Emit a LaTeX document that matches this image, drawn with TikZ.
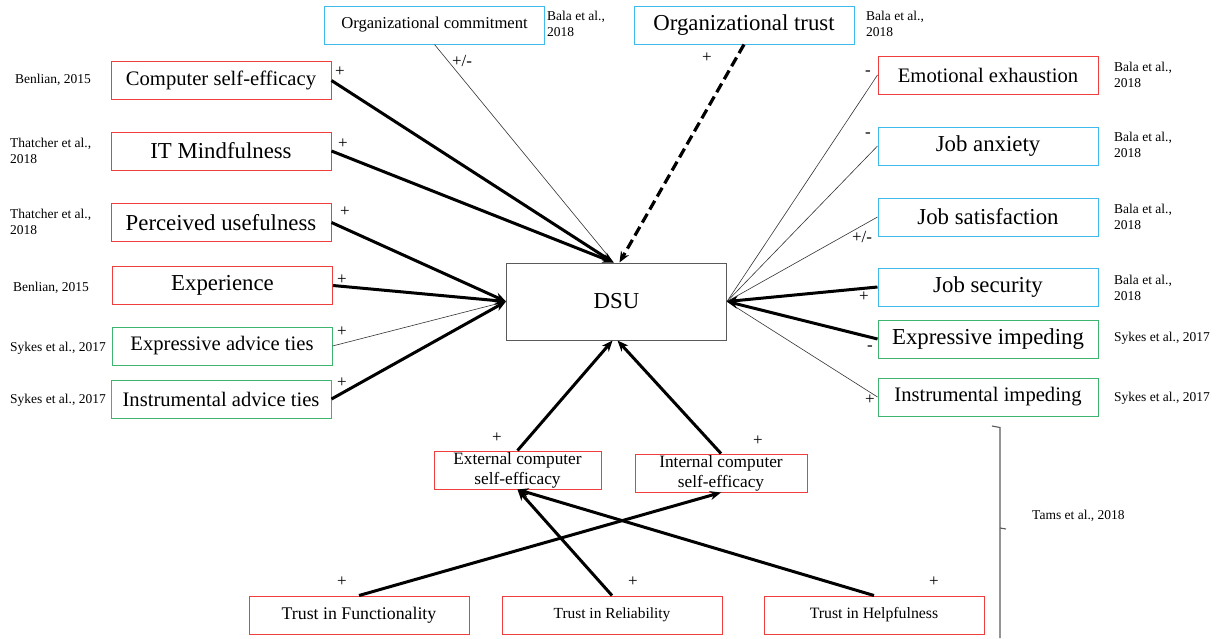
\documentclass[tikz,border=0pt]{standalone}
\usepackage{fontspec}
\setmainfont{Liberation Serif}
\usetikzlibrary{arrows.meta,calc}

\definecolor{boxred}{RGB}{240,62,62}
\definecolor{boxblue}{RGB}{64,186,236}
\definecolor{boxgreen}{RGB}{62,180,112}
\definecolor{boxgray}{RGB}{90,90,90}

\tikzset{
  construct/.style={draw, line width=1pt, inner sep=0pt, align=center,
    minimum width=220pt, minimum height=38pt},
  redc/.style={construct, draw=boxred},
  bluec/.style={construct, draw=boxblue},
  greenc/.style={construct, draw=boxgreen},
  fbig/.style={font=\fontsize{22.8}{26}\selectfont},
  fmid/.style={font=\fontsize{20.6}{24}\selectfont},
  fsmall/.style={font=\fontsize{16.6}{20}\selectfont},
  fsmaller/.style={font=\fontsize{15.4}{19}\selectfont},
  cite/.style={anchor=west, align=left, inner sep=0pt,
    font=\fontsize{13.5}{15.5}\selectfont},
  sign/.style={inner sep=0pt, font=\fontsize{17}{19}\selectfont},
  strong/.style={line width=3pt, -{Stealth[length=11pt,width=9pt]}},
  weak/.style={line width=0.6pt, draw=black!80},
}

\begin{document}
\begin{tikzpicture}[x=1pt,y=-1pt]
\useasboundingbox (0,0) rectangle (1225,638);

% central construct
\node[construct, draw=boxgray, minimum width=220pt, minimum height=77pt, fbig] (dsu) at (616.5,301.5) {DSU};

% top constructs
\node[bluec, fsmall] (oc) at (434.5,25) {Organizational commitment};
\node[bluec, fbig] (ot) at (744,25) {Organizational trust};

% left constructs
\node[redc, fmid] (cse) at (221,80.5) {Computer self-efficacy};
\node[redc, fbig] (itm) at (221,151) {IT Mindfulness};
\node[redc, fbig] (pu) at (221,222.5) {Perceived usefulness};
\node[redc, fbig] (exper) at (222.5,285.5) {Experience};
\node[greenc, fmid] (eat) at (222,346) {Expressive advice ties};
\node[greenc, fmid] (iat) at (221,399) {Instrumental advice ties};

% right constructs
\node[redc, fmid] (ee) at (988,75) {Emotional exhaustion};
\node[bluec, fbig] (ja) at (988,146) {Job anxiety};
\node[bluec, fbig] (js) at (988,217) {Job satisfaction};
\node[bluec, fbig] (jsec) at (988,287) {Job security};
\node[greenc, fbig] (ei) at (988,339) {Expressive impeding};
\node[greenc, fmid] (ii) at (988,397) {Instrumental impeding};

% self-efficacy constructs
\node[redc, minimum width=167pt, minimum height=38pt, font=\fontsize{17.3}{20}\selectfont] (ecse) at (517.5,470) {External computer\\self-efficacy};
\node[redc, minimum width=172pt, minimum height=38pt, font=\fontsize{17.3}{20}\selectfont] (icse) at (721,473) {Internal computer\\self-efficacy};

% trust constructs
\node[redc, font=\fontsize{17.8}{20}\selectfont] (tf) at (359,615) {Trust in Functionality};
\node[redc, fsmaller] (tr) at (612,615) {Trust in Reliability};
\node[redc, fsmaller, font=\fontsize{15.8}{19}\selectfont] (th) at (874,615) {Trust in Helpfulness};

% citations
\node[cite] (c-oc) at (547,24) {Bala et al.,\\2018};
\node[cite] (c-ot) at (866,24) {Bala et al.,\\2018};
\node[cite] (c-cse) at (15,80) {Benlian, 2015};
\node[cite] (c-itm) at (10,151) {Thatcher et al.,\\2018};
\node[cite] (c-pu) at (10,222) {Thatcher et al.,\\2018};
\node[cite] (c-exp) at (13,288) {Benlian, 2015};
\node[cite] (c-eat) at (10,348) {Sykes et al., 2017};
\node[cite] (c-iat) at (10,400) {Sykes et al., 2017};
\node[cite] (c-ee) at (1114,75) {Bala et al.,\\2018};
\node[cite] (c-ja) at (1114,145) {Bala et al.,\\2018};
\node[cite] (c-js) at (1114,217) {Bala et al.,\\2018};
\node[cite] (c-jsec) at (1114,288) {Bala et al.,\\2018};
\node[cite] (c-ei) at (1114,338) {Sykes et al., 2017};
\node[cite] (c-ii) at (1114,398) {Sykes et al., 2017};
\node[cite] (c-tams) at (1032,516) {Tams et al., 2018};

% signs of the effects
\node[sign] (s-oc) at (462,61) {+/-};
\node[sign] (s-ot) at (707,58) {+};
\node[sign] (s-cse) at (340,72) {+};
\node[sign] (s-itm) at (343,144) {+};
\node[sign] (s-pu) at (345,212) {+};
\node[sign] (s-exp) at (342,280) {+};
\node[sign] (s-eat) at (342,332) {+};
\node[sign] (s-iat) at (342,383) {+};
\node[sign] (s-ee) at (868,73) {-};
\node[sign] (s-ja) at (868,135) {-};
\node[sign] (s-js) at (862,237) {+/-};
\node[sign] (s-jsec) at (864,297) {+};
\node[sign] (s-ei) at (870,348) {-};
\node[sign] (s-ii) at (870,400) {+};
\node[sign] (s-ecse) at (497,438) {+};
\node[sign] (s-icse) at (758,441) {+};
\node[sign] (s-tf) at (342,582) {+};
\node[sign] (s-tr) at (633,582) {+};
\node[sign] (s-th) at (934,582) {+};

% effects on DSU from the top and left
\draw[weak] (oc.south) -- ([xshift=-3pt]dsu.north);
\draw[strong, dash pattern=on 10pt off 5pt, line width=3.2pt] (ot.south) -- ([xshift=3pt]dsu.north);
\draw[strong] (cse.east) -- ([xshift=-3pt]dsu.north);
\draw[strong] (itm.east) -- ([xshift=-3pt]dsu.north);
\draw[strong] (pu.east) -- (dsu.west);
\draw[strong] (exper.east) -- (dsu.west);
\draw[weak] (eat.east) -- (dsu.west);
\draw[strong] (iat.east) -- (dsu.west);

% effects on DSU from the right
\draw[weak] (ee.west) -- (dsu.east);
\draw[weak] (ja.west) -- (dsu.east);
\draw[weak] (js.west) -- (dsu.east);
\draw[weak] (ii.west) -- (dsu.east);
\draw[strong] (jsec.west) -- (dsu.east);
\draw[strong] (ei.west) -- (dsu.east);

% self-efficacy paths
\draw[strong] (ecse.north) -- ([xshift=-4pt]dsu.south);
\draw[strong] (icse.north) -- ([xshift=1pt]dsu.south);
\draw[strong] (tf.north) -- (icse.south);
\draw[strong] (tr.north) -- (ecse.south);
\draw[strong] (th.north) -- (ecse.south);

% brace grouping the trust model
\draw[boxgray, line width=1.1pt] (992,426) -- (1000,427.5) -- (1000,638);
\draw[boxgray, line width=1.1pt] (1000,528) -- (1006,529);
\end{tikzpicture}
\end{document}
